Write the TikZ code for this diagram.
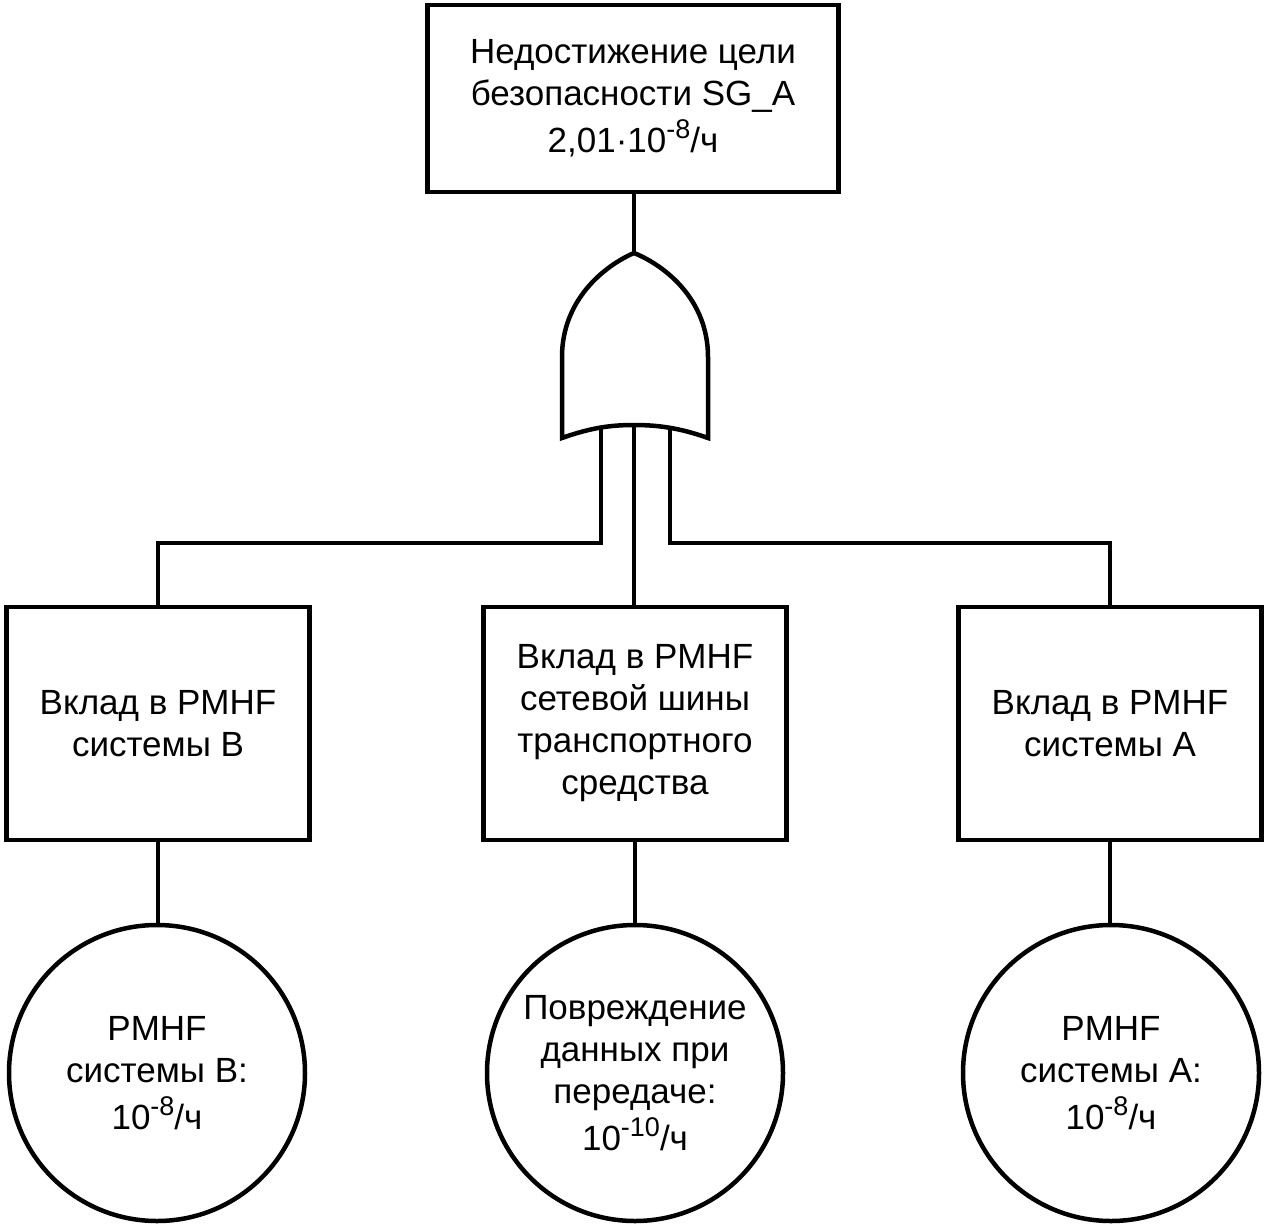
\documentclass[tikz,border=0pt]{standalone}
\usepackage{fontspec}
\setmainfont{Liberation Sans}
\newcommand{\sps}[1]{\raisebox{14pt}{\fontsize{27}{27}\selectfont #1}}
\begin{document}
\begin{tikzpicture}[x=1pt,y=-1pt,line width=4.5pt,
  txt/.style={align=center,font=\fontsize{35}{42}\selectfont,inner sep=0pt},
  ebox/.style={txt,draw,minimum width=303pt,minimum height=233pt},
  topbox/.style={txt,draw,minimum width=411pt,minimum height=187pt},
  basic/.style={txt,draw,circle,minimum size=296pt}]
\useasboundingbox (0,0) rectangle (1271,1228);
\node[topbox] (top) at (633,98.5) {Недостижение цели\\безопасности SG\_A\\[5pt]2,01·10\sps{-8}/ч};
% OR gate
\coordinate (gt) at (634,253);
\draw[line join=miter] (gt) .. controls (604,266) and (562,300) .. (562,357) -- (562,438)
  .. controls (590,428) and (610,425) .. (634,425)
  .. controls (658,425) and (680,428) .. (708,438) -- (708,357)
  .. controls (708,300) and (666,266) .. (gt) -- cycle;
\coordinate (g1) at (601,428);
\coordinate (g2) at (634,425);
\coordinate (g3) at (670,428);
\node[ebox] (eb) at (158,723.5) {Вклад в PMHF\\системы B};
\node[ebox] (en) at (635,723.5) {Вклад в PMHF\\сетевой шины\\транспортного\\средства};
\node[ebox] (ea) at (1110,723.5) {Вклад в PMHF\\системы A};
\node[basic] (cb) at (157,1073) {PMHF\\системы B:\\[5pt]10\sps{-8}/ч};
\node[basic] (cn) at (635,1073) {Повреждение\\данных при\\передаче:\\[5pt]10\sps{-10}/ч};
\node[basic] (ca) at (1111,1073) {PMHF\\системы A:\\[5pt]10\sps{-8}/ч};
\draw (top.south -| gt) -- (gt);
\draw (g1) -- (g1 |- 0,543) -| (eb.north);
\draw (g3) -- (g3 |- 0,543) -| (ea.north);
\draw (g2) -- (en.north -| g2);
\draw (eb.south) -- (cb.north -| eb.south);
\draw (en.south) -- (cn.north -| en.south);
\draw (ea.south) -- (ca.north -| ea.south);
\end{tikzpicture}
\end{document}
